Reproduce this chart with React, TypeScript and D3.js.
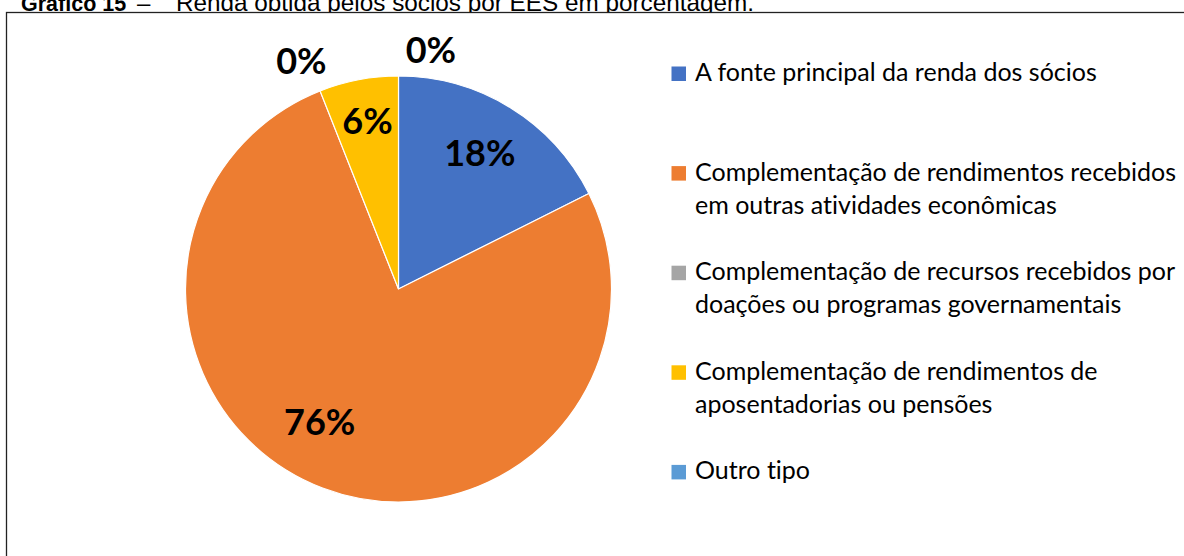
import React from "react";
import * as d3 from "d3";

const categories: string[][] = [
  ["A fonte principal da renda dos sócios"],
  ["Complementação de rendimentos recebidos", "em outras atividades econômicas"],
  ["Complementação de recursos recebidos por", "doações ou programas governamentais"],
  ["Complementação de rendimentos de", "aposentadorias ou pensões"],
  ["Outro tipo"],
];
const values: number[] = [17.6, 76.4, 0, 6.0, 0];
const colors: string[] = ["#4472C4", "#ED7D31", "#A5A5A5", "#FFC000", "#5B9BD5"];
// label placement tweaks (degrees, radius factor) mimicking Excel's best-fit
const labelNudgeDeg: number[] = [-0.7, 9.8, -1.5, 0.3, 7.7];
const labelRadiusFactor: number[] = [0.742, 0.725, 1.163, 0.8, 1.134];

const W = 1184;
const H = 556;
const cx = 398.5;
const cy = 289;
const R = 213;

export default function App() {
  const total = d3.sum(values);
  const pie = d3.pie<number>().sort(null).value((d) => d)(values);
  const arc = d3.arc<d3.PieArcDatum<number>>().innerRadius(0).outerRadius(R);
  const fmt = (v: number) => `${Math.round((v / total) * 100)}%`;

  const legendX = 671.5;
  const textX = 695;
  const firstBaseline = 81;
  const rowStep = 99.6;
  const lineH = 33;

  return (
    <div style={{ position: "fixed", left: 0, top: 0, width: W, height: H, background: "#fff" }}>
      <svg width={W} height={H} style={{ display: "block" }}>
        <rect x={0} y={0} width={W} height={H} fill="#fff" />
        <text y={10.5} fontFamily="'Liberation Sans', Arial, sans-serif" fill="#000">
          <tspan x={21} fontWeight="bold" fontSize={21.5}>Gráfico 15</tspan>
          <tspan x={137} fontSize={24}>–</tspan>
          <tspan x={176} fontSize={24.3}>Renda obtida pelos sócios por EES em porcentagem.</tspan>
        </text>
        <rect x={6.5} y={12.5} width={W + 20} height={H + 20} fill="#fff" stroke="#222" strokeWidth={1.3} />
        <g transform={`translate(${cx},${cy})`}>
          {pie.map((p, i) =>
            p.endAngle - p.startAngle > 0 ? (
              <path key={i} d={arc(p) || ""} fill={colors[i]} stroke="#fff" strokeWidth={1.2} />
            ) : null
          )}
          {pie.map((p, i) => {
            const mid = (p.startAngle + p.endAngle) / 2 + (labelNudgeDeg[i] * Math.PI) / 180;
            const r = R * labelRadiusFactor[i];
            const x = Math.sin(mid) * r;
            const y = -Math.cos(mid) * r;
            return (
              <text
                key={`l${i}`}
                x={x}
                y={y}
                dy="0.36em"
                textAnchor="middle"
                fontFamily="Lato, 'Open Sans', sans-serif"
                fontWeight="bold"
                fontSize={36}
                fill="#000"
              >
                {fmt(values[i])}
              </text>
            );
          })}
        </g>
        <g>
          {categories.map((lines, i) => {
            const base = firstBaseline + i * rowStep;
            return (
              <g key={`g${i}`}>
                <rect x={legendX} y={base - 14.5} width={14.5} height={14.5} fill={colors[i]} />
                <text
                  fontFamily="Lato, 'Open Sans', sans-serif"
                  fontSize={25}
                  fill="#000"
                  style={{ fontVariantLigatures: "none" }}
                >
                  {lines.map((ln, j) => (
                    <tspan key={j} x={textX} y={base + j * lineH}>
                      {ln}
                    </tspan>
                  ))}
                </text>
              </g>
            );
          })}
        </g>
      </svg>
    </div>
  );
}
